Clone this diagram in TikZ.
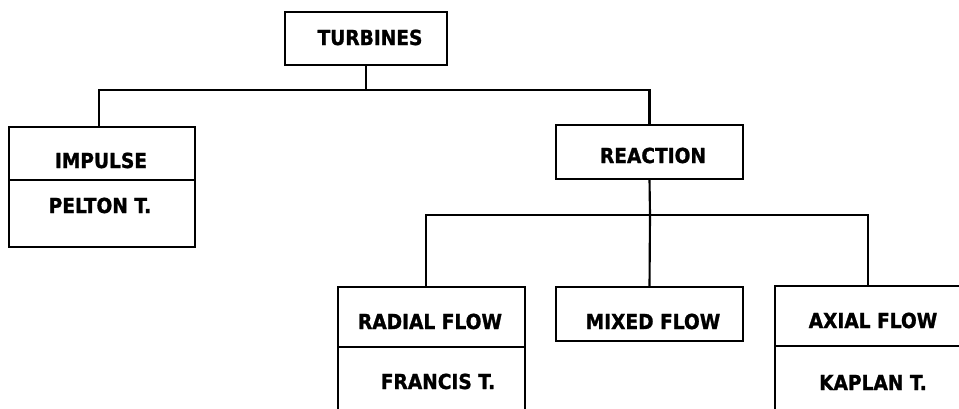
\documentclass[tikz,border=0pt]{standalone}
\usepackage{fontspec}
\setmainfont{DejaVu Sans}
\newfontfamily\lblfont[FakeStretch=0.9,FakeBold=1.2]{DejaVu Sans Bold}
\usetikzlibrary{fit}
\tikzset{
  box/.style={draw, line width=1.6pt, inner sep=0pt, outer sep=0pt, rectangle},
  lbl/.style={anchor=base, inner sep=0pt, font=\lblfont\fontsize{15.5}{17}\selectfont},
  wire/.style={line width=1.6pt}
}
\begin{document}
\begin{tikzpicture}[x=0.75pt, y=-0.75pt]
\useasboundingbox (0,0) rectangle (959,408);
\clip (0,0) rectangle (959,408);
\fill[white] (0,0) rectangle (959,408);
% boxes
\node[box, fit={(285,12) (447,65)}] (turb) {};
\node[box, fit={(9,127) (195,180)}] (imp) {};
\node[box, fit={(9,180) (195,247)}] (pel) {};
\node[box, fit={(556,125) (743,179)}] (react) {};
\node[box, fit={(338,287) (525,347)}] (rad) {};
\node[box, fit={(338,347) (525,440)}] (fra) {};
\node[box, fit={(556,287) (743,341)}] (mix) {};
\node[box, fit={(775,286) (962,346)}] (ax) {};
\node[box, fit={(775,346) (962,440)}] (kap) {};
% labels
\node[lbl] (tturb) at (370,45) {TURBINES};
\node[lbl] (timp) at (101,168) {IMPULSE};
\node[lbl] (tpel) at (100,213) {PELTON T.};
\node[lbl] (treact) at (653,163) {REACTION};
\node[lbl] (trad) at (430,329) {RADIAL FLOW};
\node[lbl] (tfra) at (438,389) {FRANCIS T.};
\node[lbl] (tmix) at (653,329) {MIXED FLOW};
\node[lbl] (tax) at (873,328) {AXIAL FLOW};
\node[lbl] (tkap) at (873,390) {KAPLAN T.};
% connectors
\coordinate (j1) at (366,90);
\coordinate (j2) at (650,215);
\draw[wire] (turb.south) -- (j1);
\draw[wire] ([xshift=-2.25pt]imp.north) |- (j1) -| (react.north);
\draw[wire] (react.south) -- (j2);
\draw[wire] ([xshift=-4pt]rad.north) |- (j2) -| ([xshift=-0.5pt]ax.north);
\draw[wire] (mix.north) -- (j2);
\end{tikzpicture}
\end{document}
